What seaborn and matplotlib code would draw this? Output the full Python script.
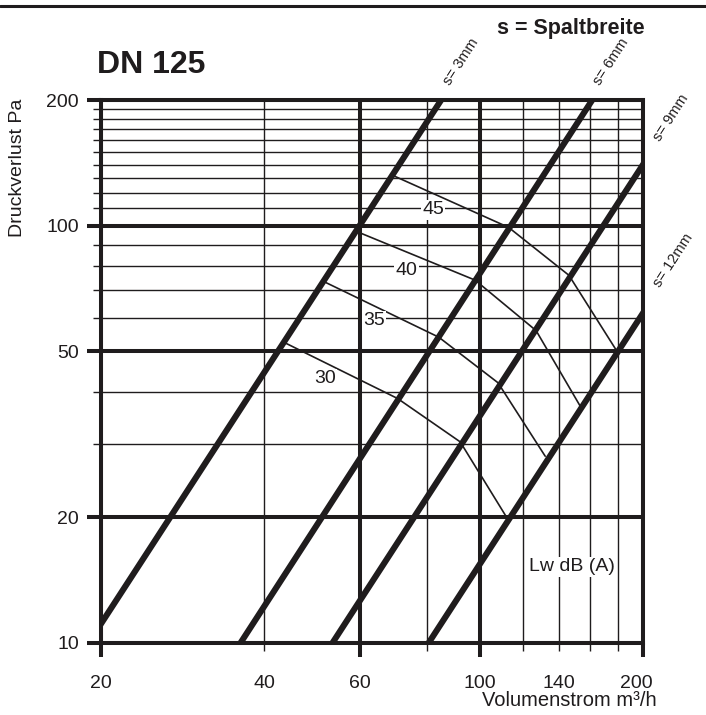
import numpy as np
import pandas as pd
import matplotlib
matplotlib.use("Agg")
import matplotlib.pyplot as plt
from matplotlib.lines import Line2D
from matplotlib.ticker import FixedLocator, FixedFormatter
from matplotlib.transforms import ScaledTranslation
import seaborn as sns

# Gap-width lines: volume flow (m³/h) and pressure drop (Pa) at both ends
gap_labels = ["s= 3mm", "s= 6mm", "s= 9mm", "s= 12mm"]
gap_flow = [[20, 84.85], [36.2, 160], [53.5, 200], [80.5, 200]]
gap_pressure = [[11.1, 200], [10, 197], [10, 140], [10, 61.7]]
gap_label_pos = [(92.3, 247), (174.6, 247), (225.6, 181), (227.2, 82.6)]

# Sound power level curves Lw dB(A), break points on the gap-width lines
level_labels = ["30", "35", "40", "45"]
level_flow = [[43.5, 70.5, 92, 112],
              [52, 84, 108, 132],
              [59, 98, 127, 153],
              [69, 113, 146, 179]]
level_pressure = [[52.5, 38.5, 30.3, 20],
                  [73, 54, 42, 28],
                  [97, 74, 56, 37],
                  [132, 99, 76, 50]]
level_label_pos = [(51.8, 43.0), (63.8, 59.1), (73.3, 78.2), (82.0, 109.0)]

x_major = [20, 60, 100, 200]
x_major_labels = ["20", "60", "100", "200"]
x_minor = [40, 80, 120, 140, 160, 180]
x_minor_labels = ["40", "", "", "140", "", ""]
y_major = [10, 20, 50, 100, 200]
y_major_labels = ["10", "20", "50", "100", "200"]
y_minor = [30, 40, 60, 70, 80, 90, 110, 120, 130, 140, 150, 160, 170, 180, 190]

INK = "#1f1c1d"
W, H = 706, 715

sns.set_theme(style="white")
plt.rcParams["font.family"] = ["Liberation Sans", "DejaVu Sans"]
plt.rcParams["text.color"] = INK

fig = plt.figure(figsize=(W / 100, H / 100), dpi=100)
ax = fig.add_axes([101 / W, 1 - 642.7 / H, 542 / W, 542.7 / H])
ax.set_xscale("log")
ax.set_yscale("log")
ax.set_xlim(20, 200)
ax.set_ylim(10, 200)

# grid and ticks
ax.xaxis.set_major_locator(FixedLocator(x_major))
ax.xaxis.set_major_formatter(FixedFormatter(x_major_labels))
ax.xaxis.set_minor_locator(FixedLocator(x_minor))
ax.xaxis.set_minor_formatter(FixedFormatter(x_minor_labels))
ax.yaxis.set_major_locator(FixedLocator(y_major))
ax.yaxis.set_major_formatter(FixedFormatter(y_major_labels))
ax.yaxis.set_minor_locator(FixedLocator(y_minor))
ax.yaxis.set_minor_formatter(FixedFormatter([""] * len(y_minor)))

ax.grid(which="major", color=INK, lw=2.9)
ax.grid(which="minor", color=INK, lw=1.0)
ax.set_axisbelow(True)
for sp in ax.spines.values():
    sp.set_linewidth(2.9)
    sp.set_color(INK)

ax.tick_params(which="major", direction="out", length=10, width=2.9, color=INK,
               labelsize=14, labelcolor=INK)
ax.tick_params(which="minor", direction="out", length=5.5, width=1.0, color=INK,
               labelsize=14, labelcolor=INK)
ax.tick_params(axis="y", which="major", pad=6)
ax.tick_params(axis="x", which="major", pad=13.5)
ax.tick_params(axis="x", which="minor", pad=18)
ax.tick_params(left=True, bottom=True, which="both")

# gap-width lines
gap_df = pd.DataFrame({
    "flow": np.concatenate(gap_flow),
    "pressure": np.concatenate(gap_pressure),
    "gap": np.repeat(gap_labels, 2),
})
sns.lineplot(data=gap_df, x="flow", y="pressure", units="gap", estimator=None,
             color=INK, lw=4.4, solid_capstyle="projecting", legend=False, ax=ax)

# sound level curves
level_df = pd.DataFrame({
    "flow": np.concatenate(level_flow),
    "pressure": np.concatenate(level_pressure),
    "level": np.repeat(level_labels, 4),
})
sns.lineplot(data=level_df, x="flow", y="pressure", units="level", estimator=None,
             color=INK, lw=1.2, legend=False, ax=ax)

ax.set_xlabel("")
ax.set_ylabel("")

for lab, (vx, vy) in zip(level_labels, level_label_pos):
    ax.text(vx, vy, lab, fontsize=14, ha="center", va="center", zorder=6,
            bbox=dict(facecolor="white", edgecolor="none", pad=1.0))

ax.text(148, 15.2, "Lw dB (A)", fontsize=14, ha="center", va="center", zorder=6,
        bbox=dict(facecolor="white", edgecolor="none", pad=1.0))

for lab, (vx, vy) in zip(gap_labels, gap_label_pos):
    ax.text(vx, vy, lab, fontsize=10.5, ha="center", va="center", rotation=57,
            rotation_mode="anchor", clip_on=False)

# keep the last flow label inside the frame edge
last = ax.xaxis.get_major_ticks()[-1].label1
last.set_transform(last.get_transform() + ScaledTranslation(-7 / 100, 0, fig.dpi_scale_trans))

# titles and axis captions
fig.text(97 / W, 1 - 73 / H, "DN 125", fontsize=23, fontweight="bold",
         ha="left", va="baseline")
fig.text(645 / W, 1 - 34 / H, "s = Spaltbreite", fontsize=15.5, fontweight="bold",
         ha="right", va="baseline")
fig.text(18 / W, 1 - 99 / H, "Druckverlust Pa", fontsize=14, rotation=90,
         ha="center", va="top")
fig.text(657 / W, 1 - 701 / H, "Volumenstrom m³/h", fontsize=14.5,
         ha="right", va="center")

fig.add_artist(Line2D([0, 1], [1 - 5.5 / H, 1 - 5.5 / H], transform=fig.transFigure,
                      color=INK, lw=2.2))

fig.savefig("out.png", dpi=100)
